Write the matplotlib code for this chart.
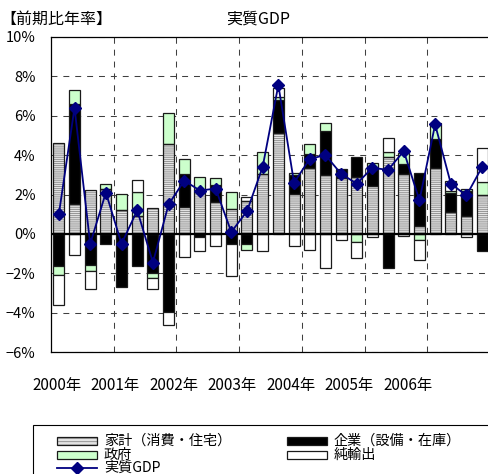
"""
Real GDP growth (annualised q/q) with contributions by demand component.
Stacked bars for the components, line with markers for real GDP.
"""

import numpy as np
import matplotlib
matplotlib.use("Agg")
import matplotlib.pyplot as plt
from matplotlib.patches import Rectangle
from matplotlib.lines import Line2D

plt.rcParams["font.family"] = ["Noto Sans CJK JP", "DejaVu Sans"]
plt.rcParams["hatch.linewidth"] = 0.6

#####################################
# Data (quarterly, 2000 Q1 - 2006 Q4), % contribution
#####################################

year_labels = ["2000年", "2001年", "2002年", "2003年", "2004年", "2005年", "2006年"]

household = [4.6, 1.5, 2.25, 2.3, 1.2, 0.9, 1.3,
             4.55, 1.35, 2.15, 1.6, 1.25, 1.65, 3.05,
             5.1, 2.05, 3.35, 3.0, 2.85, 2.9, 2.45,
             3.9, 3.05, 0.4, 3.35, 1.1, 0.9, 2.0]
corporate = [-1.6, 5.1, -1.55, -0.5, -2.7, -1.6, -2.0,
             -3.95, 1.7, -0.15, 0.9, -0.5, -0.5, 0.0,
             1.7, 0.95, 0.7, 2.2, 0.45, 1.0, 0.85,
             -1.75, 0.5, 2.7, 1.45, 1.0, 1.3, -0.85]
government = [-0.5, 0.7, -0.35, 0.25, 0.85, 1.25, -0.25,
              1.6, 0.75, 0.75, 0.35, 0.9, -0.3, 1.1,
              0.15, 0.1, 0.5, 0.45, 0.0, -0.4, 0.3,
              0.25, 0.55, -0.3, 0.8, 0.1, 0.1, 0.65]
net_exports = [-1.5, -1.05, -0.9, 0.0, 0.0, 0.6, -0.55,
               -0.65, -1.15, -0.7, -0.6, -1.65, 0.2, -0.85,
               0.45, -0.6, -0.8, -1.75, -0.3, -0.8, -0.15,
               0.7, -0.1, -1.0, 0.0, 0.5, -0.17, 1.7]
real_gdp = [1.0, 6.4, -0.5, 2.1, -0.5, 1.2, -1.45,
            1.5, 2.7, 2.2, 2.3, 0.1, 1.15, 3.4,
            7.55, 2.6, 3.8, 4.0, 3.05, 2.55, 3.35,
            3.25, 4.2, 1.7, 5.55, 2.55, 1.95, 3.4]

#####################################
# Figure setup (pixel based layout)
#####################################

W, H = 488, 474
fig = plt.figure(figsize=(W / 100, H / 100), dpi=100)
ax = fig.add_axes([51 / W, 1 - 352.3 / H, 439 / W, 315.6 / H])

EDGE = "#1a1a1a"
GRAY = "#e3e3e3"
STRIPE = "#8a8a8a"
GREEN = "#ccffcc"
NAVY = "#000080"
HATCH = "--------"

x = np.arange(len(real_gdp))
bar_w = 0.7

components = [household, corporate, government, net_exports]
faces = [GRAY, "black", GREEN, "white"]

pos_base = np.zeros(len(x))
neg_base = np.zeros(len(x))
for vals, face in zip(components, faces):
    v = np.array(vals, dtype=float)
    bottom = np.where(v >= 0, pos_base, neg_base)
    m = v != 0
    if face == GRAY:
        ax.bar(x[m], v[m], bar_w, bottom=bottom[m], color=face,
               edgecolor=STRIPE, hatch=HATCH, linewidth=0, zorder=2)
        ax.bar(x[m], v[m], bar_w, bottom=bottom[m], fill=False,
               edgecolor=EDGE, linewidth=0.9, zorder=2.1)
    else:
        ax.bar(x[m], v[m], bar_w, bottom=bottom[m], color=face,
               edgecolor=EDGE, linewidth=0.9, zorder=2)
    pos_base += np.clip(v, 0, None)
    neg_base += np.clip(v, None, 0)

ax.axhline(0, color="black", linewidth=1.6, zorder=3)
ax.plot(x, real_gdp, color=NAVY, linewidth=1.3, marker="D",
        markersize=6, zorder=4)

# axes ranges and grid
ax.set_xlim(-0.5, len(x) - 0.5)
ax.set_ylim(-6, 10)
ax.set_yticks(np.arange(-6, 11, 2))
ax.set_yticklabels([f"{v}%".replace("-", "\u2212") for v in range(-6, 11, 2)],
                   fontsize=10.5)
ax.tick_params(axis="y", length=0, pad=11)

ax.set_xticks(np.arange(3.5, len(x) - 1, 4), minor=True)
ax.set_xticks([-0.12 + 3.73 * i for i in range(len(year_labels))])
ax.set_xticklabels(year_labels, fontsize=11)
ax.tick_params(axis="x", which="both", length=0, pad=18)

dash = (0, (5.7, 5.7))
ax.grid(axis="y", which="major", color="#404040", linewidth=0.75, linestyle=dash)
ax.grid(axis="x", which="minor", color="#404040", linewidth=0.75, linestyle=dash)
ax.set_axisbelow(True)

for side in ["left", "top", "bottom"]:
    ax.spines[side].set_linewidth(0.9)
    ax.spines[side].set_color("black")
ax.spines["right"].set_visible(False)

# titles
fig.text(0, 1 - 19 / H, "【前期比年率】", fontsize=11.5, va="center", ha="left")
fig.text(258 / W, 1 - 19 / H, "実質GDP", fontsize=11.5, va="center", ha="center")

#####################################
# Legend (drawn by hand to match the tight row spacing)
#####################################

def fx(px):
    return px / W


def fy(py):
    return 1 - py / H


fig.add_artist(Rectangle((fx(33), fy(490)), 480 / W, 65 / H,
                         transform=fig.transFigure, fill=False,
                         edgecolor="black", linewidth=0.8))

legend_items = [
    ("家計（消費・住宅）", 57, 441, "hh"),
    ("企業（設備・在庫）", 287, 441, "black"),
    ("政府", 57, 454.5, GREEN),
    ("純輸出", 287, 454.5, "white"),
    ("実質GDP", 57, 468, "line"),
]
for label, px, py, kind in legend_items:
    if kind == "line":
        fig.add_artist(Line2D([fx(px), fx(px + 40)], [fy(py), fy(py)],
                              transform=fig.transFigure, color=NAVY,
                              linewidth=1.3))
        fig.add_artist(Line2D([fx(px + 20)], [fy(py)], transform=fig.transFigure,
                              color=NAVY, marker="D", markersize=6))
    else:
        rect = dict(transform=fig.transFigure)
        if kind == "hh":
            fig.add_artist(Rectangle((fx(px), fy(py + 4)), 40 / W, 8 / H,
                                     facecolor=GRAY, edgecolor=STRIPE,
                                     hatch="-----", linewidth=0, **rect))
            fig.add_artist(Rectangle((fx(px), fy(py + 4)), 40 / W, 8 / H,
                                     fill=False, edgecolor=EDGE,
                                     linewidth=0.9, **rect))
        else:
            fig.add_artist(Rectangle((fx(px), fy(py + 4)), 40 / W, 8 / H,
                                     facecolor=kind, edgecolor=EDGE,
                                     linewidth=0.9, **rect))
    fig.text(fx(px + 47), fy(py), label, fontsize=10.2, va="center", ha="left")

fig.savefig("out.png", dpi=100)
